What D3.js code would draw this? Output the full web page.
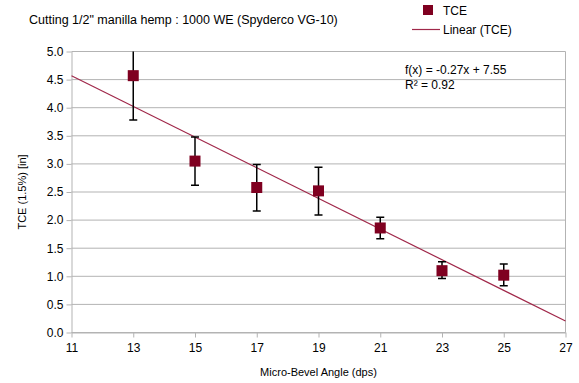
<!DOCTYPE html>
<html>
<head>
<meta charset="utf-8">
<script src="https://cdn.jsdelivr.net/npm/d3@7"></script>
<style>
  body { margin: 0; background: #fff; }
  text { font-family: "Liberation Sans", Arial, sans-serif; }
</style>
</head>
<body>
<div id="chart"></div>
<script>
// data
const angles = [13, 15, 17, 19, 21, 23, 25];
const tce = [4.57, 3.05, 2.58, 2.52, 1.86, 1.1, 1.02];
const errLow = [3.78, 2.62, 2.16, 2.09, 1.67, 0.96, 0.83];
const errHigh = [5.36, 3.48, 2.99, 2.94, 2.05, 1.26, 1.22];
const xTicks = [11, 13, 15, 17, 19, 21, 23, 25, 27];
const yTicks = [0, 0.5, 1, 1.5, 2, 2.5, 3, 3.5, 4, 4.5, 5];
const equationText = "f(x) = -0.27x + 7.55";
const r2Text = "R² = 0.92";

const markColor = "#7f0020",
  lineColor = "#a0284a",
  gridColor = "#b3b3b3";

let svg = d3
  .select("#chart")
  .append("svg")
  .attr("width", 579)
  .attr("height", 383);

const plotLeft = 71.5,
  plotRight = 565.5,
  plotTop = 51.5,
  plotBottom = 332.5;

let xScale = d3.scaleLinear().domain([11, 27]).range([plotLeft, plotRight]),
  yScale = d3.scaleLinear().domain([0, 5]).range([plotBottom, plotTop]);

// clip for plot area
svg
  .append("clipPath")
  .attr("id", "plotclip")
  .append("rect")
  .attr("x", plotLeft)
  .attr("y", plotTop)
  .attr("width", plotRight - plotLeft)
  .attr("height", plotBottom - plotTop);

// grid lines
svg
  .append("g")
  .selectAll("line")
  .data(yTicks)
  .enter()
  .append("line")
  .attr("x1", plotLeft)
  .attr("x2", plotRight)
  .attr("y1", (d) => yScale(d))
  .attr("y2", (d) => yScale(d))
  .attr("stroke", gridColor);

// right border
svg
  .append("line")
  .attr("x1", plotRight)
  .attr("x2", plotRight)
  .attr("y1", plotTop)
  .attr("y2", plotBottom)
  .attr("stroke", gridColor);

// axes
let yAxis = svg
  .append("g")
  .attr("transform", "translate(" + plotLeft + ",0)")
  .call(
    d3.axisLeft(yScale).tickValues(yTicks).tickSize(5).tickSizeOuter(0)
      .tickFormat(d3.format(".1f"))
  );

let xAxis = svg
  .append("g")
  .attr("transform", "translate(0," + plotBottom + ")")
  .call(d3.axisBottom(xScale).tickValues(xTicks).tickSize(5).tickSizeOuter(0));

[xAxis, yAxis].forEach((ax) => {
  ax.select(".domain").attr("stroke", gridColor);
  ax.selectAll(".tick line").attr("stroke", gridColor);
  ax.selectAll(".tick text")
    .attr("fill", "#000")
    .style("font-size", "12px")
    .style("font-family", "Liberation Sans, Arial, sans-serif");
});
yAxis.selectAll(".tick text").attr("x", -8);
xAxis.selectAll(".tick text").attr("y", 11);

// trend line (least squares)
const mx = d3.mean(angles),
  my = d3.mean(tce);
const slope =
  d3.sum(angles, (a, i) => (a - mx) * (tce[i] - my)) /
  d3.sum(angles, (a) => (a - mx) * (a - mx));
const intercept = my - slope * mx;

svg
  .append("line")
  .attr("x1", xScale(11))
  .attr("y1", yScale(slope * 11 + intercept))
  .attr("x2", xScale(27))
  .attr("y2", yScale(slope * 27 + intercept))
  .attr("stroke", lineColor)
  .attr("stroke-width", 1.2);

// error bars
let errG = svg.append("g").attr("clip-path", "url(#plotclip)");
angles.forEach((a, i) => {
  let cx = xScale(a);
  errG.append("line")
    .attr("x1", cx).attr("x2", cx)
    .attr("y1", yScale(errLow[i])).attr("y2", yScale(errHigh[i]))
    .attr("stroke", "#000").attr("stroke-width", 1.5);
  [errLow[i], errHigh[i]].forEach((v) => {
    errG.append("line")
      .attr("x1", cx - 4).attr("x2", cx + 4)
      .attr("y1", yScale(v)).attr("y2", yScale(v))
      .attr("stroke", "#000").attr("stroke-width", 1.5);
  });
});

// points
svg
  .append("g")
  .selectAll("rect")
  .data(angles)
  .enter()
  .append("rect")
  .attr("x", (d) => xScale(d) - 5.5)
  .attr("y", (d, i) => yScale(tce[i]) - 5.5)
  .attr("width", 11)
  .attr("height", 11)
  .attr("fill", markColor);

// title
svg.append("text")
  .attr("x", 29)
  .attr("y", 24)
  .style("font-size", "12.5px")
  .text('Cutting 1/2" manilla hemp : 1000 WE (Spyderco VG-10)');

// axis titles
svg.append("text")
  .attr("x", (plotLeft + plotRight) / 2)
  .attr("y", 376)
  .attr("text-anchor", "middle")
  .style("font-size", "11px")
  .text("Micro-Bevel Angle (dps)");

svg.append("text")
  .attr("transform", "translate(26," + (plotTop + plotBottom) / 2 + ") rotate(-90)")
  .attr("text-anchor", "middle")
  .style("font-size", "11px")
  .text("TCE (1.5%) [in]");

// equation
svg.append("text")
  .attr("x", 405)
  .attr("y", 74)
  .style("font-size", "12px")
  .text(equationText);

svg.append("text")
  .attr("x", 405)
  .attr("y", 89)
  .style("font-size", "12px")
  .text(r2Text);

// legend
svg.append("rect")
  .attr("x", 423).attr("y", 5)
  .attr("width", 10).attr("height", 10)
  .attr("fill", markColor);
svg.append("text")
  .attr("x", 443).attr("y", 15)
  .style("font-size", "12px")
  .text("TCE");
svg.append("line")
  .attr("x1", 412).attr("x2", 440)
  .attr("y1", 29.5).attr("y2", 29.5)
  .attr("stroke", lineColor).attr("stroke-width", 1.2);
svg.append("text")
  .attr("x", 443).attr("y", 34)
  .style("font-size", "12px")
  .text("Linear (TCE)");
</script>
</body>
</html>
